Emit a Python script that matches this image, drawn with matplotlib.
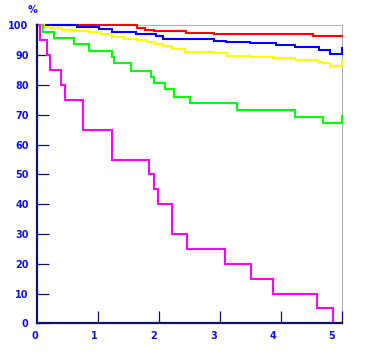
import matplotlib
matplotlib.use("Agg")
import matplotlib.pyplot as plt

# Curvas de supervivencia (tiempo, porcentaje)
rojo_t = [0, 1.64, 1.76, 1.92, 2.44, 2.89, 4.51, 5.0]
rojo_y = [100, 99.3, 98.6, 98.0, 97.4, 97.1, 96.4, 96.4]

azul_t = [0, 0.66, 1.02, 1.23, 1.62, 1.94, 2.07, 2.89, 3.09, 3.49, 3.92, 4.23, 4.61, 4.79, 5.0]
azul_y = [100, 99.6, 98.7, 97.7, 97.1, 96.6, 95.6, 94.7, 94.5, 94.1, 93.4, 92.8, 91.9, 90.5, 92.4]

amarillo_t = [0, 0.11, 0.22, 0.41, 0.61, 0.85, 1.04, 1.23, 1.42, 1.64, 1.80, 1.93, 2.07,
              2.21, 2.42, 2.89, 3.11, 3.51, 3.86, 4.23, 4.60, 4.67, 4.80, 5.0]
amarillo_y = [100, 99.5, 99.0, 98.5, 98.1, 97.7, 97.3, 96.0, 95.5, 95.0, 94.6, 93.8, 93.0,
              92.0, 91.0, 90.7, 89.9, 89.3, 89.0, 88.4, 87.6, 87.3, 86.5, 88.1]

verde_t = [0, 0.10, 0.27, 0.60, 0.85, 1.23, 1.26, 1.54, 1.86, 1.91, 2.10, 2.25, 2.51,
           3.27, 4.22, 4.68, 5.0]
verde_y = [100, 97.7, 95.7, 93.7, 91.4, 89.3, 87.4, 84.8, 82.8, 80.6, 78.6, 76.1, 73.9,
           71.6, 69.4, 67.4, 69.6]

magenta_t = [0, 0.05, 0.16, 0.21, 0.40, 0.45, 0.75, 1.23, 1.83, 1.92, 1.98, 2.21, 2.46,
             3.07, 3.51, 3.86, 4.59, 4.84]
magenta_y = [100, 95, 90, 85, 80, 75, 65, 55, 50, 45, 40, 30, 25, 20, 15, 10, 5, 0]

ticks_x = [1, 2, 3, 4, 5]
etiquetas_x = ["0", "1", "2", "3", "4", "5"]
ticks_y = [0, 10, 20, 30, 40, 50, 60, 70, 80, 90, 100]

azul_texto = "#1010ff"
marino = "#10106e"

fig = plt.figure(figsize=(3.65, 3.58), dpi=100)
ax = fig.add_axes([0.1014, 0.0969, 0.8369, 0.8319])

series = [
    (rojo_t, rojo_y, "#ff0000"),
    (azul_t, azul_y, "#0000ff"),
    (amarillo_t, amarillo_y, "#ffff00"),
    (verde_t, verde_y, "#00ff00"),
    (magenta_t, magenta_y, "#ff00ff"),
]
for t, y, c in series:
    ax.plot(t, y, drawstyle="steps-post", color=c, lw=1.5, solid_joinstyle="miter",
            clip_on=False, zorder=3)

ax.set_xlim(0, 5.0)
ax.set_ylim(0, 100)

for lado in ["left", "bottom"]:
    ax.spines[lado].set_color(marino)
    ax.spines[lado].set_linewidth(1.6)
    ax.spines[lado].set_zorder(4)
for lado in ["top", "right"]:
    ax.spines[lado].set_color("#b4b4b4")
    ax.spines[lado].set_linewidth(0.8)
    ax.spines[lado].set_zorder(1)

ax.set_yticks(ticks_y)
ax.set_yticklabels([str(v) for v in ticks_y])
ax.tick_params(axis="y", direction="in", length=8.6, width=0.9, color=marino,
               pad=6, labelsize=7, labelcolor=azul_texto)
for lab in ax.get_yticklabels():
    lab.set_fontweight("bold")

ax.set_xticks(ticks_x)
ax.set_xticklabels([])
ax.tick_params(axis="x", direction="in", length=8.6, width=0.9, color=marino)

# etiquetas del eje x algo desplazadas respecto a las marcas
for i, lab in enumerate(etiquetas_x):
    ax.text(i * 0.972 - 0.03, -2.6, lab, ha="center", va="top", fontsize=7,
            fontweight="bold", color=azul_texto, clip_on=False)

ax.text(-0.07, 103.5, "%", ha="center", va="bottom", fontsize=7,
        fontweight="bold", color=azul_texto, clip_on=False)

fig.savefig("out.png", dpi=100)
